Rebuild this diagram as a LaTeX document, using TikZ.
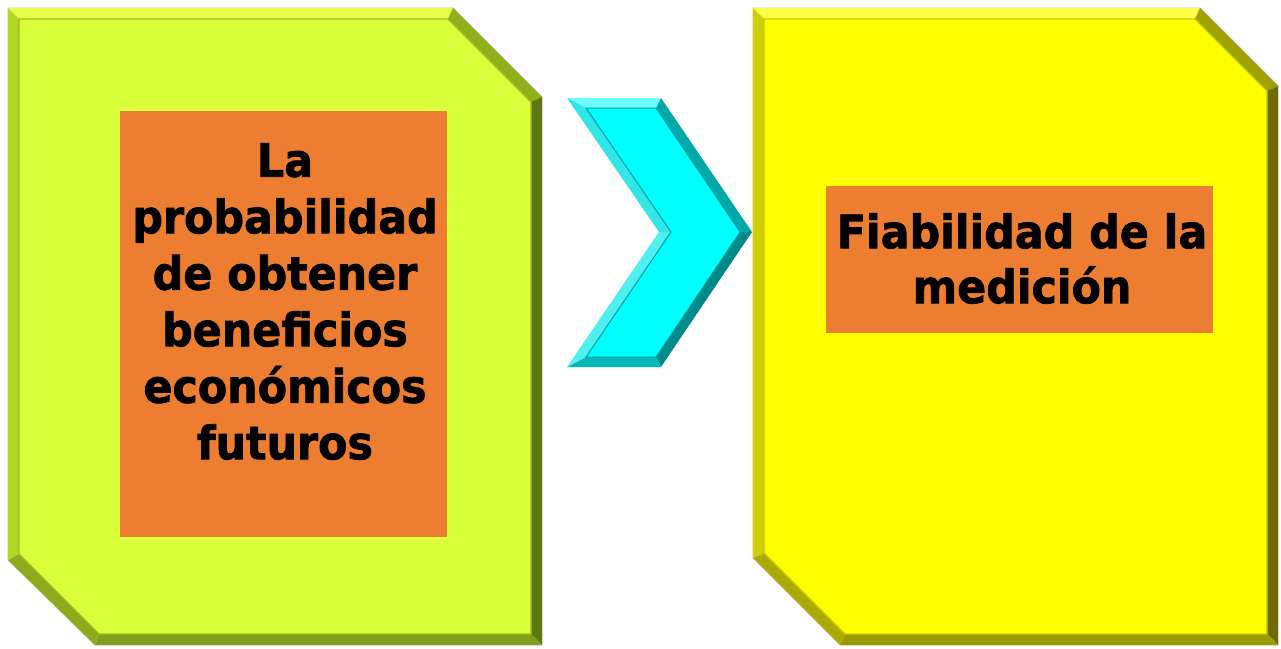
\documentclass[tikz,border=0pt]{standalone}
\usepackage{fontspec}
\setmainfont{DejaVu Sans}[FakeStretch=0.93, FakeBold=1.6]
\definecolor{gmain}{HTML}{D9FE3A}
\definecolor{gtop}{HTML}{E8FF4A}
\definecolor{gleft}{HTML}{B2D624}
\definecolor{gchamf}{HTML}{8FB01C}
\definecolor{gright}{HTML}{5C7812}
\definecolor{gbot}{HTML}{7E9E1C}
\definecolor{gbl}{HTML}{8CAC1E}
\definecolor{gline}{HTML}{9CBC20}
\definecolor{ymain}{HTML}{FFFF00}
\definecolor{ytop}{HTML}{FFFF45}
\definecolor{yleft}{HTML}{CFCF00}
\definecolor{ychamf}{HTML}{A0A000}
\definecolor{yright}{HTML}{6C6C00}
\definecolor{ybot}{HTML}{999900}
\definecolor{ybl}{HTML}{ABAB00}
\definecolor{yline}{HTML}{C8C800}
\definecolor{cmain}{HTML}{00FFFF}
\definecolor{ctop}{HTML}{70FFFF}
\definecolor{cedgeA}{HTML}{00A8A8}
\definecolor{cedgeB}{HTML}{008A8A}
\definecolor{cbot}{HTML}{00B8B8}
\definecolor{carmA}{HTML}{30E6E6}
\definecolor{carmB}{HTML}{50F0F0}
\definecolor{cline}{HTML}{00A0A0}
\definecolor{orangebox}{HTML}{ED7D31}
\tikzset{
  outerline/.style={draw=black!14, line width=1.4pt},
  orangerect/.style={fill=orangebox, draw=none},
  boxtext/.style={align=center, inner sep=0pt, text=black, font=\bfseries},
}
\begin{document}
\begin{tikzpicture}[x=1pt,y=-1pt]
\useasboundingbox (0,0) rectangle (1281,648);
% ---------- green card ----------
\coordinate (gA) at (8,8);   \coordinate (gB) at (453,8);
\coordinate (gC) at (542,97); \coordinate (gD) at (542,645);
\coordinate (gE) at (95,645); \coordinate (gF) at (8,560);
\coordinate (ga) at (19,19);  \coordinate (gb) at (448,19);
\coordinate (gc) at (531,102); \coordinate (gd) at (531,634);
\coordinate (ge) at (99,634); \coordinate (gf) at (19,554);
\draw[outerline] (gA)--(gB)--(gC)--(gD)--(gE)--(gF)--cycle;
\fill[gtop]   (gA)--(gB)--(gb)--(ga)--cycle;
\fill[gchamf] (gB)--(gC)--(gc)--(gb)--cycle;
\fill[gright] (gC)--(gD)--(gd)--(gc)--cycle;
\fill[gbot]   (gD)--(gE)--(ge)--(gd)--cycle;
\fill[gbl]    (gE)--(gF)--(gf)--(ge)--cycle;
\fill[gleft]  (gF)--(gA)--(ga)--(gf)--cycle;
\fill[gmain, draw=gline, line width=1.2pt] (ga)--(gb)--(gc)--(gd)--(ge)--(gf)--cycle;
% ---------- yellow card ----------
\coordinate (yA) at (753,8);   \coordinate (yB) at (1200,8);
\coordinate (yC) at (1278,86); \coordinate (yD) at (1278,645);
\coordinate (yE) at (840,645); \coordinate (yF) at (753,558);
\coordinate (ya) at (764,19);  \coordinate (yb) at (1195,19);
\coordinate (yc) at (1267,91); \coordinate (yd) at (1267,634);
\coordinate (ye) at (845,634); \coordinate (yf) at (764,553);
\draw[outerline] (yA)--(yB)--(yC)--(yD)--(yE)--(yF)--cycle;
\fill[ytop]   (yA)--(yB)--(yb)--(ya)--cycle;
\fill[ychamf] (yB)--(yC)--(yc)--(yb)--cycle;
\fill[yright] (yC)--(yD)--(yd)--(yc)--cycle;
\fill[ybot]   (yD)--(yE)--(ye)--(yd)--cycle;
\fill[ybl]    (yE)--(yF)--(yf)--(ye)--cycle;
\fill[yleft]  (yF)--(yA)--(ya)--(yf)--cycle;
\fill[ymain, draw=yline, line width=1.2pt] (ya)--(yb)--(yc)--(yd)--(ye)--(yf)--cycle;
% ---------- cyan chevron ----------
\coordinate (c1) at (567,98);  \coordinate (c2) at (661,98);
\coordinate (c3) at (752,232); \coordinate (c4) at (661,367);
\coordinate (c5) at (567,367); \coordinate (c6) at (659,232);
\coordinate (k1) at (586,108); \coordinate (k2) at (656,108);
\coordinate (k3) at (740,232); \coordinate (k4) at (656,357);
\coordinate (k5) at (586,357); \coordinate (k6) at (671,232);
\fill[ctop]   (c1)--(c2)--(k2)--(k1)--cycle;
\fill[cedgeA] (c2)--(c3)--(k3)--(k2)--cycle;
\fill[cedgeB] (c3)--(c4)--(k4)--(k3)--cycle;
\fill[cbot]   (c4)--(c5)--(k5)--(k4)--cycle;
\fill[carmB]  (c5)--(c6)--(k6)--(k5)--cycle;
\fill[carmA]  (c6)--(c1)--(k1)--(k6)--cycle;
\fill[cmain, draw=cline, line width=1pt] (k1)--(k2)--(k3)--(k4)--(k5)--(k6)--cycle;
% ---------- orange boxes and texts ----------
\fill[orangerect] (120,111) rectangle (447,537);
\fill[orangerect] (826,186) rectangle (1213,333);
\node[boxtext, anchor=north, font=\fontsize{46}{56.5}\selectfont\bfseries] (lefttext) at (285,143)
  {La\\probabilidad\\de obtener\\beneficios\\económicos\\futuros};
\node[boxtext, anchor=north, font=\fontsize{46}{55}\selectfont\bfseries] (righttext) at (1022,213)
  {Fiabilidad de la\\medición};
\end{tikzpicture}
\end{document}
